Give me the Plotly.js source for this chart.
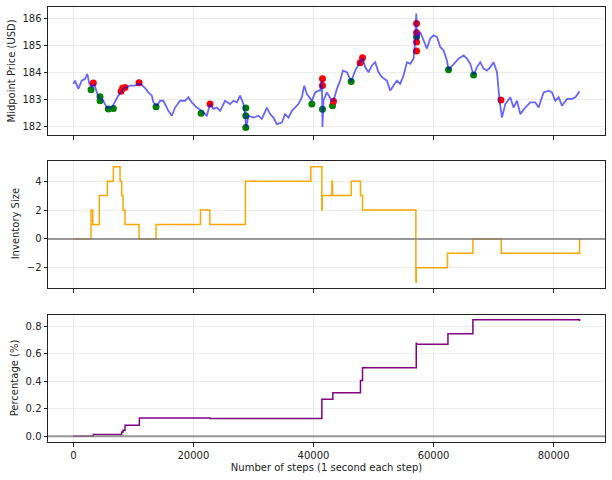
<!DOCTYPE html>
<html>
<head>
<meta charset="utf-8">
<script src="https://cdn.plot.ly/plotly-3.0.1.min.js"></script>
<style>
  body { margin: 0; background: #fff; }
  #chart { width: 612px; height: 480px; }
</style>
</head>
<body>
<div id="chart"></div>
<script>
// midpoint price
const priceSteps = [0, 280, 830, 1400, 1950, 2330, 2670, 3070, 3500, 4170, 5000, 5570, 6400, 6950, 7500, 8330,
    9450, 10280, 11120, 11950, 12500, 13070, 13330, 13900, 14450, 15000, 15830, 16400, 16950, 17780, 18620,
    19170, 19730, 20570, 21400, 22230, 22780, 23330, 23900, 24450, 25280, 26120, 26670, 27230, 27780, 28330,
    28620, 28780, 29170, 30000, 30830, 31400, 32230, 32780, 33330, 33900, 34730, 35280, 35830, 36400, 36950,
    37500, 38070, 38450, 38900, 39730, 40280, 40830, 41120, 41400, 41500, 41670, 42230, 43070, 43330, 43900,
    44450, 44900, 45570, 46280, 46950, 47780, 48170, 48620, 49170, 49730, 50280, 50830, 51400, 52230, 52780,
    53330, 53900, 54450, 55000, 55570, 56120, 56670, 56950, 57120, 57280, 57780, 58330, 58900, 59450, 60000,
    60570, 61120, 61670, 62230, 62500, 63330, 64170, 65000, 65570, 66120, 66670, 67230, 67780, 68330, 68900,
    69450, 70000, 70570, 71000, 71400, 71950, 72780, 73330, 73900, 74450, 75280, 76120, 76950, 77500, 78330,
    79170, 79730, 80280, 80830, 81400, 82230, 83070, 83620, 84330];
const priceValues = [183.58, 183.70, 183.40, 183.70, 183.77, 183.95, 183.58, 183.46, 183.56, 183.09, 182.96,
    182.71, 182.71, 182.96, 183.15, 183.40, 183.52, 183.52, 183.60, 183.43, 183.27, 183.15, 182.90, 182.78,
    182.96, 182.96, 182.59, 182.41, 182.71, 182.96, 182.96, 183.09, 182.90, 182.71, 182.59, 182.41, 182.84,
    182.66, 182.71, 182.59, 182.96, 182.84, 182.96, 182.90, 183.15, 182.84, 182.47, 181.97, 182.41, 182.34,
    182.41, 182.29, 182.71, 182.47, 182.34, 182.10, 182.16, 182.47, 182.34, 182.59, 182.71, 182.84, 183.09,
    183.52, 183.21, 182.96, 183.27, 183.33, 183.33, 183.70, 182.00, 182.96, 183.27, 182.96, 182.96, 183.40,
    183.70, 184.07, 184.01, 183.67, 184.07, 184.38, 184.54, 184.20, 184.01, 184.26, 184.38, 184.01, 183.83,
    183.70, 183.33, 183.52, 183.70, 183.58, 183.89, 184.38, 184.32, 184.51, 185.19, 186.17, 185.19, 185.49,
    185.19, 184.88, 185.25, 185.37, 185.31, 184.94, 184.81, 184.44, 184.10, 184.32, 184.51, 184.63, 184.51,
    184.32, 183.89, 184.20, 184.38, 184.14, 184.07, 184.20, 184.38, 184.01, 182.96, 182.34, 182.84, 183.09,
    182.71, 182.96, 182.47, 182.71, 182.90, 182.90, 182.71, 183.27, 183.33, 183.27, 182.96, 183.09, 182.78,
    183.03, 183.03, 183.09, 183.31];

// trades
const buySteps = [2950, 4450, 4450, 5830, 6670, 13780, 21280, 28730, 28730, 28730, 39730, 41500, 43170,
    46280, 57170, 62500, 66670];
const buyPrices = [183.37, 183.11, 182.96, 182.66, 182.68, 182.74, 182.50, 182.69, 182.41, 181.98, 182.84,
    182.65, 182.78, 183.67, 185.31, 184.10, 183.91];
const sellSteps = [3330, 7950, 8200, 8600, 10950, 22780, 41500, 41500, 43330, 47780, 48170, 57170, 57170,
    57170, 57170, 71230];
const sellPrices = [183.61, 183.31, 183.42, 183.45, 183.62, 182.84, 183.77, 183.52, 182.94, 184.36, 184.54,
    185.80, 185.46, 185.12, 184.79, 182.99];

// inventory
const invSteps = [0, 2950, 3230, 4330, 5670, 6670, 7780, 8060, 8280, 8610, 10950, 13780, 21170, 22730, 28670,
    39560, 41390, 41450, 43070, 43170, 46280, 47830, 48170, 57060, 57120, 62330, 66560, 71280, 84330];
const invValues = [0, 2, 1, 3, 4, 5, 4, 3, 2, 1, 0, 1, 2, 1, 4, 5, 2, 3, 4, 3, 4, 3, 2, -3, -2, -1, 0, -1, 0];

// percentage
const pctSteps = [0, 3330, 8060, 8280, 8610, 11000, 22780, 41400, 43230, 47830, 48170, 57120, 57170, 62400,
    66560, 84330];
const pctValues = [0, 0.012, 0.03, 0.044, 0.08, 0.133, 0.129, 0.269, 0.315, 0.405, 0.497, 0.675, 0.667,
    0.744, 0.846, 0.836];

const traces = [
    {x: buySteps, y: buyPrices, xaxis: 'x', yaxis: 'y', mode: 'markers',
        marker: {color: 'green', size: 7}, hoverinfo: 'skip'},
    {x: sellSteps, y: sellPrices, xaxis: 'x', yaxis: 'y', mode: 'markers',
        marker: {color: 'red', size: 7}, hoverinfo: 'skip'},
    {x: priceSteps, y: priceValues, xaxis: 'x', yaxis: 'y', mode: 'lines',
        line: {color: 'rgba(0,0,255,0.6)', width: 1.8}},
    {x: invSteps, y: invValues, xaxis: 'x2', yaxis: 'y2', mode: 'lines',
        line: {color: 'orange', width: 1.5, shape: 'hv'}},
    {x: pctSteps, y: pctValues, xaxis: 'x3', yaxis: 'y3', mode: 'lines',
        line: {color: 'purple', width: 1.5, shape: 'hv'}},
];

const font = {family: 'DejaVu Sans', size: 10, color: '#222'};
const xRange = [-4220, 88560];

function xAxis(anchor, labels) {
    return {
        anchor: anchor, range: xRange, matches: anchor === 'y' ? undefined : 'x',
        showticklabels: labels, tickformat: 'd', tick0: 0, dtick: 20000,
        ticks: 'outside', ticklen: 3.5, tickcolor: '#222',
        showgrid: true, gridcolor: '#ececec', gridwidth: 1, zeroline: false,
        showline: true, linecolor: '#222', linewidth: 1, mirror: true,
    };
}

function yAxis(anchor, domain, range, dtick, fmt) {
    return {
        anchor: anchor, domain: domain, range: range, dtick: dtick, tickformat: fmt,
        ticks: 'outside', ticklen: 3.5, tickcolor: '#222',
        showgrid: true, gridcolor: '#ececec', gridwidth: 1, zeroline: false,
        showline: true, linecolor: '#222', linewidth: 1, mirror: true,
    };
}

// y titles as annotations so they sit where matplotlib put them
function yTitle(text, y, px) {
    return {text: text, xref: 'paper', yref: 'paper', x: 0, y: y, xanchor: 'center', yanchor: 'middle',
        xshift: px - 48, textangle: -90, showarrow: false, font: font};
}

const xa3 = xAxis('y3', true);
xa3.title = {text: 'Number of steps (1 second each step)', font: font, standoff: 4};

const layout = {
    width: 612, height: 480,
    margin: {l: 48, r: 7, t: 7, b: 38},
    paper_bgcolor: '#fff', plot_bgcolor: '#fff',
    font: font,
    showlegend: false,
    xaxis: xAxis('y', false),
    xaxis2: xAxis('y2', false),
    xaxis3: xa3,
    yaxis: yAxis('x', [0.7057, 1], [181.7, 186.41], 1, 'd'),
    yaxis2: yAxis('x2', [0.354, 0.6467], [-3.4, 5.42], 2, 'd'),
    yaxis3: yAxis('x3', [0, 0.2926], [-0.042, 0.882], 0.2, '.1f'),
    annotations: [
        yTitle('Midpoint Price (USD)', 0.8529, 11.5),
        yTitle('Inventory Size', 0.5004, 15),
        yTitle('Percentage (%)', 0.1463, 14),
    ],
    shapes: [
        {type: 'line', xref: 'x2 domain', yref: 'y2', x0: 0, x1: 1, y0: 0, y1: 0,
            line: {color: 'rgba(128,128,128,0.8)', width: 2}, layer: 'above'},
        {type: 'line', xref: 'x3 domain', yref: 'y3', x0: 0, x1: 1, y0: 0, y1: 0,
            line: {color: 'rgba(128,128,128,0.8)', width: 2}, layer: 'above'},
    ],
};

Plotly.newPlot('chart', traces, layout, {displayModeBar: false, staticPlot: true});
</script>
</body>
</html>
